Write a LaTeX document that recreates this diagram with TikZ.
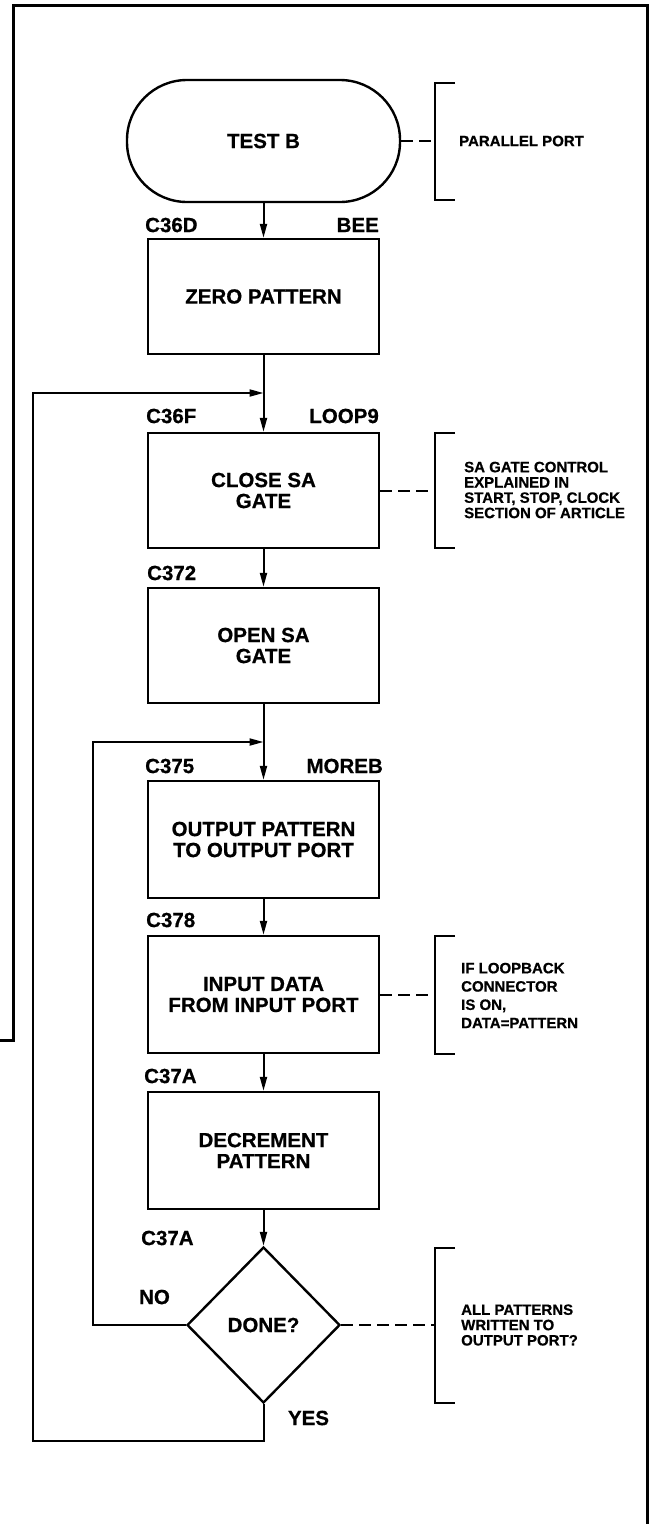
\documentclass[tikz,border=0pt]{standalone}
\usepackage{fontspec}
\setmainfont{Liberation Sans}
\newfontfamily\hvy{Liberation Sans Bold}[FakeBold=0.6]
\usetikzlibrary{arrows.meta,shapes.geometric}
\begin{document}
\begin{tikzpicture}[x=1pt,y=-1pt,
  proc/.style={draw,line width=2.4pt,minimum width=231pt,minimum height=115pt,align=center,inner sep=0pt,font=\hvy\fontsize{20.5}{21}\selectfont},
  lbl/.style={inner sep=0pt,font=\hvy\fontsize{20.5}{21}\selectfont},
  note/.style={inner sep=0pt,align=left,anchor=west,font=\hvy\fontsize{15}{15.3}\selectfont},
  flow/.style={line width=2pt,-{Triangle[length=14pt,width=7pt]}},
  dashlink/.style={line width=2pt,dash pattern=on 12pt off 6pt},
  bracketline/.style={line width=2.2pt},
  frameline/.style={line width=3pt}
]
\useasboundingbox (0,0) rectangle (649,1524);

% page frame
\draw[frameline] (0,1040) -- (13,1040) -- (13,5) -- (647,5) -- (647,1524);

% nodes
\node[draw,line width=2.4pt,rounded corners=60pt,minimum width=273pt,minimum height=122pt,inner sep=0pt,font=\hvy\fontsize{20.5}{21}\selectfont] (start) at (263.5,141) {TEST B};
\node[proc] (zero) at (263.5,296.5) {ZERO PATTERN};
\node[proc] (close) at (263.5,490.5) {CLOSE SA\\GATE};
\node[proc] (open) at (263.5,645.5) {OPEN SA\\GATE};
\node[proc,minimum height=117pt] (out) at (263.5,839.5) {OUTPUT PATTERN\\TO OUTPUT PORT};
\node[proc,minimum height=117pt] (in) at (263.5,994.5) {INPUT DATA\\FROM INPUT PORT};
\node[proc,minimum height=117pt] (dec) at (263.5,1150.5) {DECREMENT\\PATTERN};
\node[draw,diamond,aspect=1,line width=2.4pt,minimum width=153pt,minimum height=156pt,inner sep=0pt,font=\hvy\fontsize{20.5}{21}\selectfont] (done) at (263.5,1325) {DONE?};

% address labels
\node[lbl,anchor=west] (a1) at (145,225) {C36D};
\node[lbl,anchor=east] (a2) at (379,225) {BEE};
\node[lbl,anchor=west] (a3) at (146,416) {C36F};
\node[lbl,anchor=east] (a4) at (379,416) {LOOP9};
\node[lbl,anchor=west] (a5) at (147,573) {C372};
\node[lbl,anchor=west] (a6) at (145,766) {C375};
\node[lbl,anchor=east] (a7) at (383,766) {MOREB};
\node[lbl,anchor=west] (a8) at (146,920) {C378};
\node[lbl,anchor=west] (a9) at (144,1076) {C37A};
\node[lbl,anchor=west] (a10) at (141,1238) {C37A};
\node[lbl] (no) at (154.5,1297) {NO};
\node[lbl] (yes) at (308.5,1418) {YES};

% main flow
\draw[flow] (start) -- (zero);
\draw[flow] (zero) -- (close);
\draw[flow] (close) -- (open);
\draw[flow] (open) -- (out);
\draw[flow] (out) -- (in);
\draw[flow] (in) -- (dec);
\draw[flow] (dec) -- (done);

% loops
\coordinate (j1) at (263.5,393);
\coordinate (j2) at (263.5,742);
\coordinate (c1) at (33,1441);
\coordinate (c2) at (93,742);
\draw[flow] (done.south) |- (c1) |- (j1);
\draw[flow] (done.west) -| (c2) -- (j2);

% side notes
\coordinate (b1) at (435,141);
\coordinate (b2) at (435,490.5);
\coordinate (b3) at (435,994.5);
\coordinate (b4) at (435,1325);
\draw[bracketline] (455,83) -- (435,83) -- (435,200) -- (455,200);
\draw[bracketline] (455,433) -- (435,433) -- (435,548) -- (455,548);
\draw[bracketline] (455,936) -- (435,936) -- (435,1054) -- (455,1054);
\draw[bracketline] (455,1248) -- (435,1248) -- (435,1403) -- (455,1403);
\draw[dashlink] (start.east) -- (b1);
\draw[dashlink] (close.east) -- (b2);
\draw[dashlink] (in.east) -- (b3);
\draw[dashlink] (done.east) -- (b4);

\node[note] (n1) at (459,141) {PARALLEL PORT};
\node[note] (n2) at (464,490) {SA GATE CONTROL\\EXPLAINED IN\\START, STOP, CLOCK\\SECTION OF ARTICLE};
\node[note,font=\hvy\fontsize{15}{18.3}\selectfont] (n3) at (461,995.5) {IF LOOPBACK\\CONNECTOR\\IS ON,\\DATA=PATTERN};
\node[note] (n4) at (461,1325) {ALL PATTERNS\\WRITTEN TO\\OUTPUT PORT?};
\end{tikzpicture}
\end{document}
